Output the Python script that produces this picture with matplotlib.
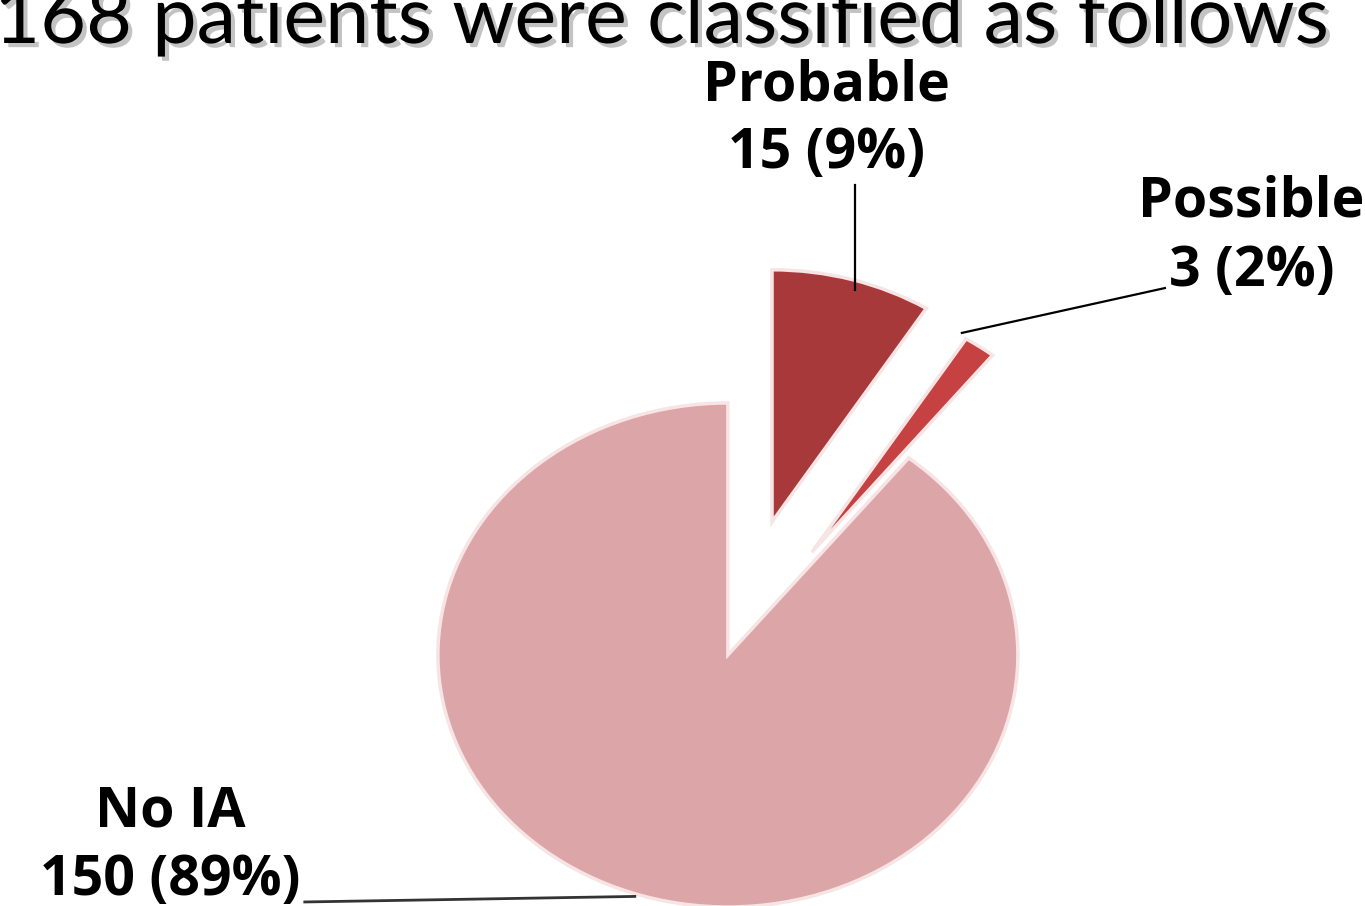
import matplotlib
matplotlib.use("Agg")
import matplotlib.pyplot as plt
import matplotlib.patheffects as pe

title = "168 patients were classified as follows"
categories = ["Probable", "Possible", "No IA"]
counts = [15, 3, 150]
percents = [9, 2, 89]
colors = ["#A8393B", "#C64141", "#DCA6A9"]
explode = [0.55, 0.5, 0.0]

fig = plt.figure(figsize=(13.65, 9.06), dpi=100)
ax = fig.add_axes([0, 0, 1, 1])

wedges, _ = ax.pie(counts, colors=colors, explode=explode, startangle=90,
                   counterclock=False, radius=1.0,
                   wedgeprops=dict(edgecolor="#F7E4E4", linewidth=2.5))

# stretched (non-equal) aspect as in the reference
ax.set_aspect("auto")
ax.set_xlim(-2.510, 2.197)
ax.set_ylim(-0.996, 2.599)
ax.axis("off")

fp = dict(family=["Open Sans", "DejaVu Sans"], weight="bold", fontsize=40, color="black")
# (x centre, baseline of name line, baseline of count line) in data units
label_pos = {"Probable": (0.34, 2.202, 1.933),
             "Possible": (1.805, 1.738, 1.464),
             "No IA": (-1.923, -0.682, -0.952)}
for cat, n, p in zip(categories, counts, percents):
    x, y1, y2 = label_pos[cat]
    ax.text(x, y1, cat, ha="center", va="baseline", **fp)
    ax.text(x, y2, f"{n} ({p}%)", ha="center", va="baseline", **fp)

# leader lines
ax.plot([0.438, 0.438], [1.448, 1.865], color="black", lw=1.6)
ax.plot([0.807, 1.507], [1.278, 1.456], color="black", lw=1.6)
ax.plot([-1.459, -0.321], [-0.980, -0.958], color="#333333", lw=2)

fig.text(662 / 1365, 1 - 43 / 906, title, ha="center", va="baseline",
         family=["Lato", "DejaVu Sans"], fontsize=57, color="black",
         path_effects=[pe.SimplePatchShadow(offset=(3, -3), shadow_rgbFace="#888888", alpha=0.5),
                       pe.Normal()])

fig.savefig("out.png", dpi=100, facecolor="white")
